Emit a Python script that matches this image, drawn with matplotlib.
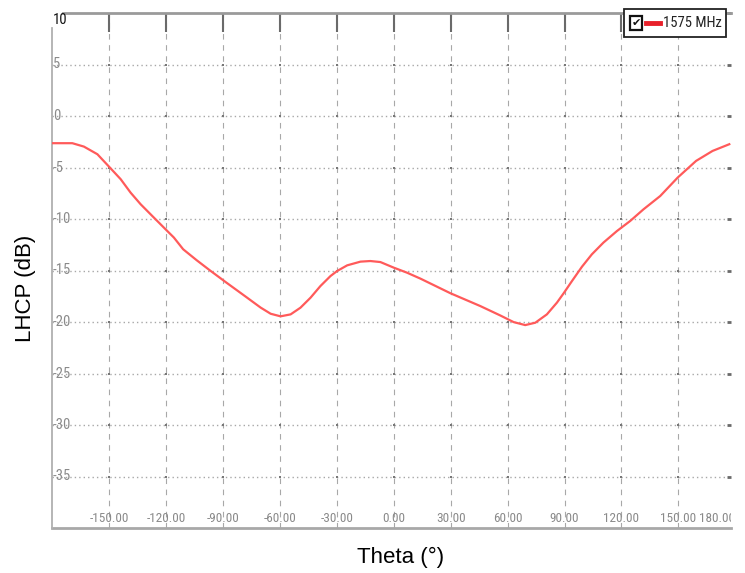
import numpy as np
import matplotlib
matplotlib.use("Agg")
import matplotlib.pyplot as plt
from matplotlib.patches import Rectangle

# LHCP pattern, 1575 MHz
theta = [-180, -169.3, -163.2, -156.1, -150, -143.8, -138.6, -133.3, -126.3,
         -119.3, -115.8, -110.9, -103.8, -96.8, -88.1, -77.5, -70.1, -64.8, -59.6,
         -54.3, -49.1, -43.8, -38.6, -33.3, -29.8, -24.5, -17.5, -12.3, -7.0,
         0, 7.0, 14.1, 29.8, 45.6, 56.1, 63.2, 69.3, 74.6, 80.7, 86.0, 89.5,
         93.9, 99.2, 104.4, 110.5, 117.6, 124.6, 131.6, 140.4, 149.6, 159.3,
         168, 176.8]
lhcp = [-2.64, -2.64, -2.97, -3.71, -4.91, -6.14, -7.44, -8.57, -9.87,
        -11.16, -11.8, -12.94, -14.0, -14.99, -16.18, -17.6, -18.6, -19.2, -19.45,
        -19.26, -18.61, -17.64, -16.51, -15.54, -15.05, -14.5, -14.14, -14.08, -14.18,
        -14.72, -15.21, -15.79, -17.2, -18.45, -19.36, -20.01, -20.3, -20.07, -19.26, -18.12, -17.22,
        -16.03, -14.63, -13.43, -12.29, -11.17, -10.19, -9.06, -7.77, -5.98, -4.36,
        -3.39, -2.74]

x_ticks = [-150, -120, -90, -60, -30, 0, 30, 60, 90, 120, 150]
x_labels = ["-150.00", "-120.00", "-90.00", "-60.00", "-30.00", "0.00",
            "30.00", "60.00", "90.00", "120.00", "150.00"]
y_ticks = [5, 0, -5, -10, -15, -20, -25, -30, -35]
y_labels = ["5", "0", "-5", "-10", "-15", "-20", "-25", "-30", "-35"]

narrow = ["Roboto Condensed", "Liberation Sans Narrow", "Roboto", "DejaVu Sans"]
grid_col = "#a8a8a8"

W, H = 745, 573
TOP, BOT, LEFT, RIGHT = 13, 528, 52, 731
fig = plt.figure(figsize=(W / 100, H / 100), dpi=100)
ax = fig.add_axes([LEFT / W, (H - BOT) / H, (RIGHT - LEFT) / W, (BOT - TOP) / H])
ax.set_xlim(-180, 177.7)
ax.set_ylim(-40, 10)

for s in ax.spines.values():
    s.set_visible(False)

# grid
for y in y_ticks:
    ax.axhline(y, color=grid_col, lw=1, ls=(0, (1, 2.2)), zorder=1)
for x in x_ticks:
    ax.axvline(x, color=grid_col, lw=0.8, ls=(0, (5, 5)), zorder=1)
gx, gy = np.meshgrid(x_ticks, y_ticks)
ax.scatter(gx.ravel(), gy.ravel(), s=3, marker="s", color="#777777", lw=0, zorder=2)

# frame lines
ax.axhline(10, xmin=11 / (RIGHT - LEFT), color="#9a9a9a", lw=2, zorder=3, clip_on=False)
ax.axhline(-40, color="#a8a8a8", lw=2, zorder=3, clip_on=False)
ax.axvline(-180, ymax=(BOT - 28) / (BOT - TOP), color="#b0b0b0", lw=1.3, zorder=3,
           clip_on=False)

# ticks: long on top, short on the right
ax.set_xticks(x_ticks)
ax.set_yticks([10] + y_ticks)
ax.tick_params(axis="x", top=True, bottom=False, labeltop=False, labelbottom=False,
               direction="in", length=14, width=1.5, color="#6a6a6a")
ax.tick_params(axis="y", right=True, left=False, labelleft=False, labelright=False,
               direction="in", length=3, width=2, color="#6a6a6a")

# curve
ax.plot(theta, lhcp, color="#ff5a5a", lw=1.6, zorder=4, solid_joinstyle="round")

# in-plot tick labels
for x, lab in zip(x_ticks, x_labels):
    ax.text(x, 3 / 515, lab, transform=ax.get_xaxis_transform(), ha="center",
            va="bottom", fontsize=9.5, color="#8a8a8a", family=narrow,
            fontstretch="condensed")
ax.text(180, 3 / 515, "180.00", transform=ax.get_xaxis_transform(), ha="right",
        va="bottom", fontsize=9.5, color="#8a8a8a", family=narrow,
        fontstretch="condensed", clip_on=True)
for y, lab in zip(y_ticks, y_labels):
    ax.text(1 / 679, y, lab, transform=ax.get_yaxis_transform(), ha="left",
            va="center", fontsize=10.5, color="#8a8a8a", family=narrow,
            fontstretch="condensed")
ax.text(1 / 679, 10, "10", transform=ax.get_yaxis_transform(), ha="left",
        va="top", fontsize=10.5, color="#111111", family=narrow,
        fontstretch="condensed")

# axis titles
fig.text(25 / W, 1 - 288 / H, "LHCP (dB)", rotation=90, ha="center", va="center",
         fontsize=16, family="Liberation Sans")
fig.text(401 / W, 1 - 557 / H, "Theta (°)", ha="center", va="center",
         fontsize=16, family="Liberation Sans")

# legend box
def fx(p):
    return p / W

def fy(p):
    return 1 - p / H

fig.patches.append(Rectangle((fx(624), fy(37)), fx(726) - fx(624), fy(9) - fy(37),
                             transform=fig.transFigure, facecolor="white",
                             edgecolor="#222222", lw=1.3, zorder=5))
fig.patches.append(Rectangle((fx(630), fy(30)), fx(642) - fx(630), fy(16) - fy(30),
                             transform=fig.transFigure, facecolor="white",
                             edgecolor="#111111", lw=1.6, zorder=6))
fig.text(fx(636), fy(23), "✔", ha="center", va="center", fontsize=8,
         family="DejaVu Sans", color="#111111", zorder=7)
fig.lines.append(plt.Line2D([fx(646), fx(660)], [fy(23), fy(23)],
                            transform=fig.transFigure, color="#e8202a", lw=3.5,
                            zorder=6))
fig.text(fx(663), fy(23), "1575 MHz", ha="left", va="center", fontsize=10.5,
         family=narrow, fontstretch="condensed", color="#222222", zorder=6)

fig.savefig("out.png", dpi=100)
